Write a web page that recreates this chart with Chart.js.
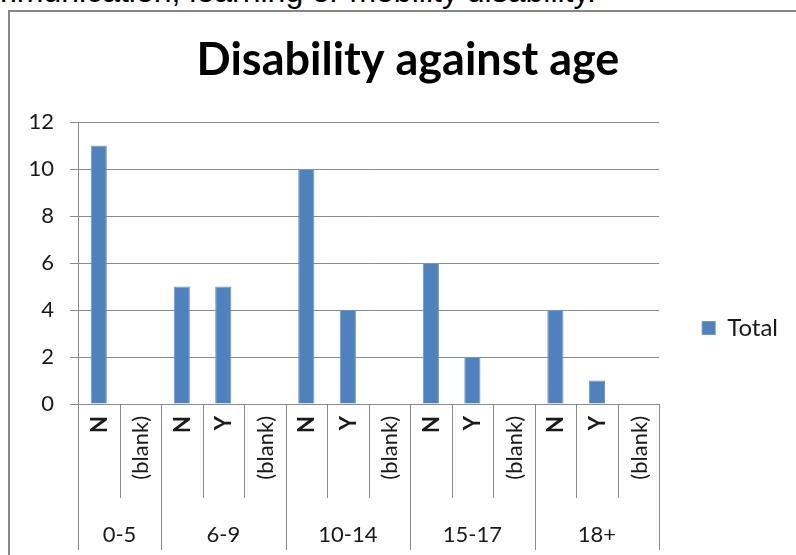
<!DOCTYPE html>
<html>
<head>
<meta charset="utf-8">
<script src="https://cdn.jsdelivr.net/npm/chart.js@4"></script>
<style>
  html, body { margin: 0; padding: 0; width: 796px; height: 555px; overflow: hidden; background: #fff; }
  #note { position: absolute; right: 200px; top: -25px; white-space: nowrap; font: 32px/32px "Liberation Sans", Arial, sans-serif; color: #000; }
  #frame { position: absolute; left: 8px; top: 10px; width: 900px; height: 700px; border-left: 2px solid #878787; border-top: 2px solid #878787; }
  #wrap { position: absolute; left: 0; top: 0; width: 814px; height: 656px; }
</style>
</head>
<body>
<div id="note">communication, learning or mobility disability.</div>
<div id="frame"></div>
<div id="wrap"><canvas id="chart" width="814" height="656"></canvas></div>
<script>
const subLabels = ['N', '(blank)', 'N', 'Y', '(blank)', 'N', 'Y', '(blank)', 'N', 'Y', '(blank)', 'N', 'Y', '(blank)'];
const ageGroups = ['0-5', '0-5', '6-9', '6-9', '6-9', '10-14', '10-14', '10-14', '15-17', '15-17', '15-17', '18+', '18+', '18+'];
const totals = [11, null, 5, 5, null, 10, 4, null, 6, 2, null, 4, 1, null];
const yTicks = [0, 2, 4, 6, 8, 10, 12];

const gridGrey = '#8c8c8c';
const textColor = '#1a1a1a';
const fontFamily = 'Lato, "Open Sans", sans-serif';

// draws the two-level category axis (sub labels + age groups) under the plot
const groupAxis = {
  id: 'groupAxis',
  afterDraw(chart) {
    const ctx = chart.ctx;
    const x = chart.scales.x;
    const top = chart.chartArea.bottom;
    const w = (x.right - x.left) / subLabels.length;
    ctx.save();
    ctx.strokeStyle = gridGrey;
    ctx.lineWidth = 1;
    // separators
    for (let i = 0; i <= subLabels.length; i++) {
      const px = Math.round(x.left + i * w) + 0.5;
      const groupEdge = i === 0 || i === subLabels.length || ageGroups[i] !== ageGroups[i - 1];
      ctx.beginPath();
      ctx.moveTo(px, top);
      ctx.lineTo(px, groupEdge ? 550 : 498);
      ctx.stroke();
    }
    // rotated sub labels
    ctx.fillStyle = textColor;
    ctx.textBaseline = 'middle';
    ctx.textAlign = 'right';
    subLabels.forEach((lab, i) => {
      const cx = x.getPixelForValue(i);
      ctx.save();
      ctx.translate(cx + 1, 416);
      ctx.rotate(-Math.PI / 2);
      ctx.font = (lab === '(blank)' ? '400' : '700') + ' 22px ' + fontFamily;
      ctx.fillText(lab, 0, 0);
      ctx.restore();
    });
    // group labels
    ctx.font = '400 22px ' + fontFamily;
    ctx.textAlign = 'center';
    ctx.textBaseline = 'alphabetic';
    let start = 0;
    for (let i = 1; i <= ageGroups.length; i++) {
      if (i === ageGroups.length || ageGroups[i] !== ageGroups[start]) {
        const cx = x.left + ((start + i) / 2) * w;
        ctx.fillText(ageGroups[start], cx, 542);
        start = i;
      }
    }
    ctx.restore();
  }
};

new Chart(document.getElementById('chart'), {
  type: 'bar',
  data: {
    labels: subLabels,
    datasets: [{
      label: 'Total',
      data: totals,
      backgroundColor: '#4f81bd',
      borderColor: '#6f97c9',
      borderWidth: 1,
      barPercentage: 0.39,
      categoryPercentage: 1
    }]
  },
  options: {
    responsive: false,
    animation: false,
    layout: { padding: { left: 28, right: 26, top: 0, bottom: 0 } },
    plugins: {
      title: {
        display: true,
        text: 'Disability against age',
        color: '#000',
        font: { family: fontFamily, size: 45, weight: '700', lineHeight: 1.2 },
        padding: { top: 33.2, bottom: 34.8 }
      },
      legend: {
        position: 'right',
        labels: {
          color: textColor,
          font: { family: fontFamily, size: 24 },
          boxWidth: 13,
          boxHeight: 13,
          padding: 43
        }
      },
      tooltip: { enabled: false }
    },
    scales: {
      x: {
        grid: { display: false },
        border: { display: true, color: gridGrey },
        ticks: { display: false },
        afterFit(scale) { scale.height = 656 - 404; }
      },
      y: {
        min: 0,
        max: 12,
        afterBuildTicks(scale) { scale.ticks = yTicks.map(v => ({ value: v })); },
        grid: { color: gridGrey, tickLength: 8 },
        border: { display: true, color: gridGrey },
        ticks: { color: textColor, padding: 16, font: { family: fontFamily, size: 22 } },
        afterFit(scale) { scale.width = 78 - 28; }
      }
    }
  },
  plugins: [groupAxis]
});
</script>
</body>
</html>
